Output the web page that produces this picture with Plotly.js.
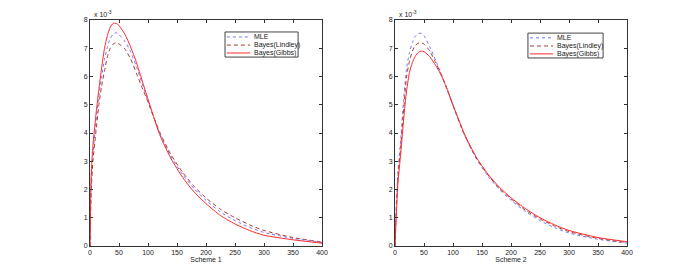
<!DOCTYPE html>
<html>
<head>
<meta charset="utf-8">
<script src="https://cdn.plot.ly/plotly-3.0.1.min.js"></script>
<style>html,body{margin:0;padding:0;background:#fff;}#chart{width:692px;height:277px;}</style>
</head>
<body>
<div id="chart"></div>
<script>
// Common x grid (both panels)
const xGrid = [0, 2, 5, 10, 15, 20, 25, 30, 35, 40, 45, 50, 60, 70, 80, 90, 100, 120, 140, 160, 180, 200, 225, 250, 275, 300, 350, 400];

// Scheme 1 (values in units of 1e-3)
const s1MLE     = [0, 2.2, 3.2, 4.35, 5.25, 6.0, 6.6, 7.05, 7.35, 7.5, 7.55, 7.48, 7.25, 6.88, 6.35, 5.75, 5.12, 4.0, 3.15, 2.52, 2.02, 1.62, 1.2, 0.9, 0.66, 0.48, 0.27, 0.12];
const s1Lindley = [0, 1.9, 3.0, 4.0, 4.95, 5.65, 6.2, 6.7, 7.0, 7.15, 7.2, 7.15, 6.98, 6.62, 6.12, 5.6, 5.1, 4.04, 3.22, 2.6, 2.1, 1.7, 1.3, 1.0, 0.75, 0.55, 0.3, 0.14];
const s1Gibbs   = [0, 2.5, 3.55, 4.6, 5.5, 6.3, 7.0, 7.45, 7.75, 7.88, 7.88, 7.8, 7.5, 7.05, 6.5, 5.85, 5.2, 3.95, 3.08, 2.42, 1.9, 1.5, 1.08, 0.78, 0.55, 0.38, 0.22, 0.1];

// Scheme 2
const s2MLE     = [0, 1.3, 2.6, 3.8, 5.2, 6.3, 6.85, 7.2, 7.42, 7.52, 7.53, 7.45, 7.05, 6.58, 6.08, 5.52, 4.96, 3.92, 3.1, 2.48, 2.0, 1.62, 1.22, 0.9, 0.65, 0.46, 0.24, 0.1];
const s2Lindley = [0, 1.15, 2.4, 3.55, 4.85, 6.0, 6.55, 6.9, 7.1, 7.18, 7.2, 7.15, 6.9, 6.5, 6.06, 5.54, 4.98, 3.93, 3.12, 2.52, 2.04, 1.67, 1.27, 0.96, 0.71, 0.51, 0.27, 0.12];
const s2Gibbs   = [0, 1.0, 2.2, 3.3, 4.5, 5.5, 6.15, 6.5, 6.72, 6.85, 6.9, 6.88, 6.7, 6.4, 6.03, 5.55, 5.0, 3.95, 3.15, 2.55, 2.08, 1.71, 1.32, 1.0, 0.75, 0.55, 0.3, 0.15];

const seriesNames = ['MLE', 'Bayes(Lindley)', 'Bayes(Gibbs)'];
const xTitles = ['Scheme 1', 'Scheme 2'];
const xTicks = [0, 50, 100, 150, 200, 250, 300, 350, 400];
const yTicks = [0, 1, 2, 3, 4, 5, 6, 7, 8];

const colors = ['#7474ff', '#a83a34', '#ff2a2a'];
const dashes = ['dot', '4px,3px', 'solid'];

const panels = [[s1MLE, s1Lindley, s1Gibbs], [s2MLE, s2Lindley, s2Gibbs]];
const traces = [];
panels.forEach((set, p) => {
  set.forEach((ys, i) => {
    traces.push({
      x: xGrid, y: ys, type: 'scatter', mode: 'lines',
      name: seriesNames[i], showlegend: false,
      xaxis: p === 0 ? 'x' : 'x2', yaxis: p === 0 ? 'y' : 'y2',
      line: {color: colors[i], width: 1, dash: dashes[i], shape: 'spline', smoothing: 0.6}
    });
  });
});

const W = 692, H = 277;
const font = {family: 'Liberation Sans, Arial, sans-serif', size: 7, color: '#222'};
function xa(l, r, title) {
  return {
    domain: [l / W, r / W], range: [0, 400], tickvals: xTicks, ticktext: xTicks.map(String),
    ticks: 'inside', ticklen: 3, tickcolor: '#333', showline: true, mirror: 'ticks',
    linecolor: '#333', linewidth: 1, showgrid: false, zeroline: false,
    tickfont: font, automargin: false,
    title: {text: title, font: font, standoff: 1}
  };
}
function ya() {
  return {
    domain: [(H - 246) / H, (H - 20) / H], range: [0, 8], tickvals: yTicks, ticktext: yTicks.map(String),
    ticks: 'inside', ticklen: 3, tickcolor: '#333', showline: true, mirror: 'ticks',
    linecolor: '#333', linewidth: 1, showgrid: false, zeroline: false,
    tickfont: font, automargin: false
  };
}

const shapes = [];
const annotations = [];
const legendSpecs = [
  {xr: 'x domain', yr: 'y domain', box: [0.582, 0.897, 0.836, 0.947], line: [0.59, 0.69], tx: 0.70, ys: [0.925, 0.889, 0.854]},
  {xr: 'x2 domain', yr: 'y2 domain', box: [0.573, 0.897, 0.832, 0.942], line: [0.582, 0.681], tx: 0.69, ys: [0.921, 0.885, 0.850]}
];
legendSpecs.forEach((L, p) => {
  shapes.push({type: 'rect', xref: L.xr, yref: L.yr, x0: L.box[0], x1: L.box[1], y0: L.box[2], y1: L.box[3],
    line: {color: '#444', width: 1}, fillcolor: '#fff', layer: 'above'});
  seriesNames.forEach((nm, i) => {
    shapes.push({type: 'line', xref: L.xr, yref: L.yr, x0: L.line[0], x1: L.line[1], y0: L.ys[i], y1: L.ys[i],
      line: {color: colors[i], width: 1, dash: dashes[i]}, layer: 'above'});
    annotations.push({xref: L.xr, yref: L.yr, x: L.tx, y: L.ys[i], xanchor: 'left', yanchor: 'middle',
      text: nm, showarrow: false, font: font});
  });
  annotations.push({xref: p === 0 ? 'x domain' : 'x2 domain', yref: p === 0 ? 'y domain' : 'y2 domain',
    x: 0, y: 1, xanchor: 'left', yanchor: 'bottom', xshift: 2, yshift: 0,
    text: 'x 10<sup>-3</sup>', showarrow: false, font: font});
});

const layout = {
  width: W, height: H, margin: {l: 0, r: 0, t: 0, b: 0},
  paper_bgcolor: '#fff', plot_bgcolor: '#fff', showlegend: false,
  font: font,
  xaxis: xa(90, 322, xTitles[0]), yaxis: ya(),
  xaxis2: xa(395, 627, xTitles[1]), yaxis2: Object.assign(ya(), {anchor: 'x2'}),
  shapes: shapes, annotations: annotations
};
layout.xaxis.anchor = 'y';
layout.xaxis2.anchor = 'y2';
layout.yaxis.anchor = 'x';

Plotly.newPlot('chart', traces, layout, {displayModeBar: false, staticPlot: true});
</script>
</body>
</html>
